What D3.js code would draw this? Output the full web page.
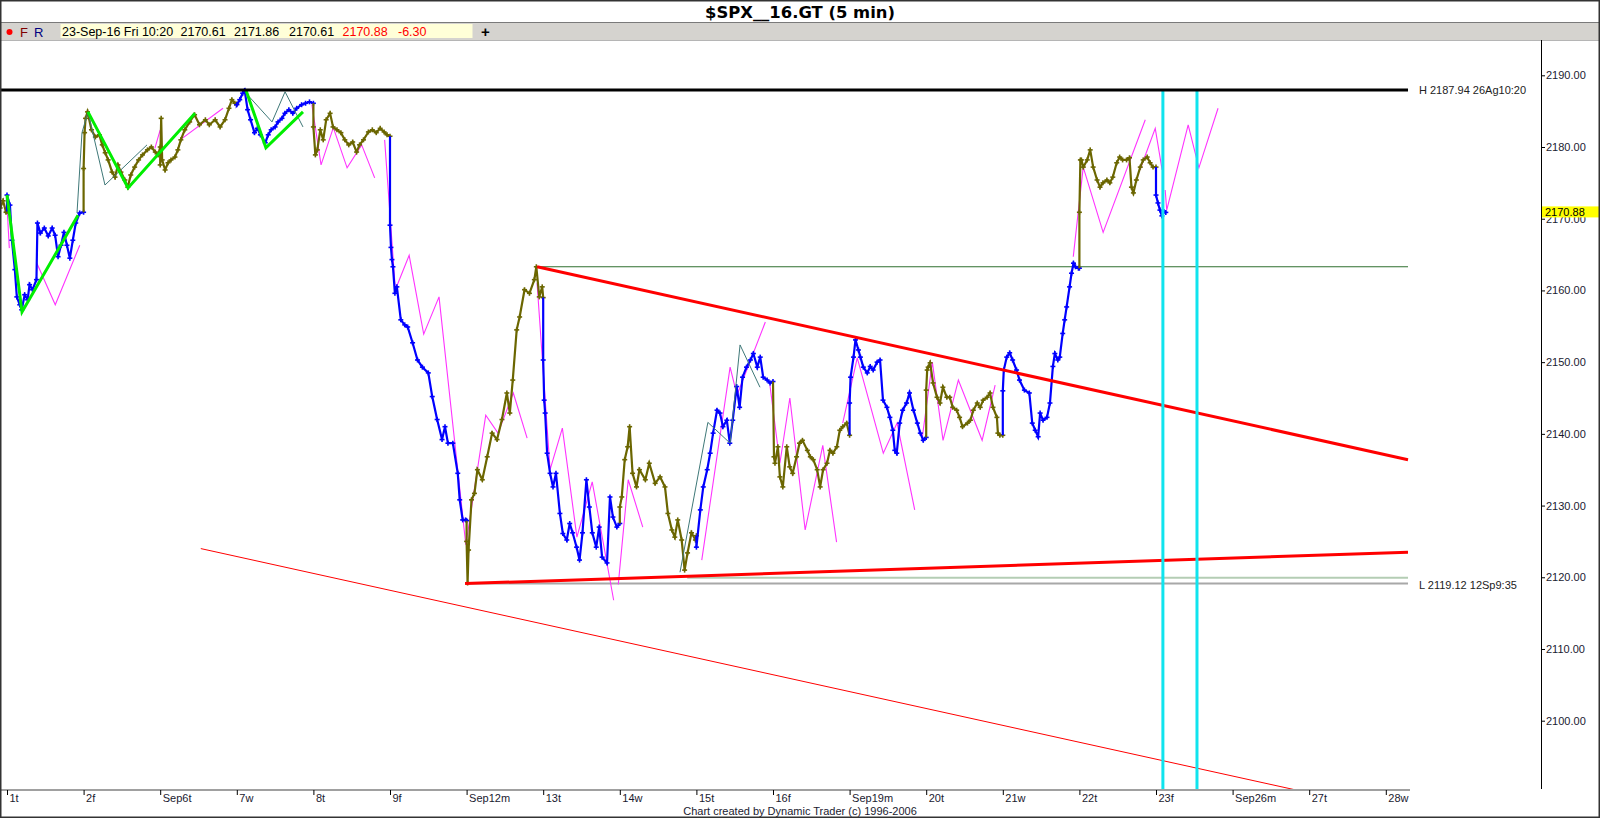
<!DOCTYPE html>
<html><head><meta charset="utf-8">
<script src="https://cdn.jsdelivr.net/npm/d3@7"></script>
<style>
html,body{margin:0;padding:0;background:#fff;}
svg{display:block;font-family:"Liberation Sans",Arial,sans-serif;}
</style></head><body>
<svg id="c" width="1600" height="818"></svg>
<script>
// ---------------- DATA ----------------
const chartTitle = "$SPX__16.GT (5 min)";
const dayLabels = ["1t","2f","Sep6t","7w","8t","9f","Sep12m","13t","14w","15t","16f","Sep19m","20t","21w","22t","23f","Sep26m","27t","28w"];
const yTicks = [2100,2110,2120,2130,2140,2150,2160,2170,2180,2190];
// trading sessions: session index (-1 = Aug 31) and calendar date
const sessionIndex = [-1,0,1,2,3,4,5,6,7,8,9,10,11,12,13,14,15];
const sessionDates = ["2016-08-31","2016-09-01","2016-09-02","2016-09-06","2016-09-07","2016-09-08","2016-09-09","2016-09-12","2016-09-13","2016-09-14","2016-09-15","2016-09-16","2016-09-19","2016-09-20","2016-09-21","2016-09-22","2016-09-23"];
// [minutes after open, price]
const aug31 = [[355,2171.5],[370,2172.5],[385,2170.9],[390,2171.0]];
const sep01 = [[0,2173.3],[15,2171.9],[25,2167.0],[40,2162.9],[50,2159.1],[65,2158.0],[75,2157.3],[90,2159.4],[105,2158.7],[115,2160.8],[130,2160.1],[150,2161.5],[155,2169.4],[170,2168.0],[190,2168.7],[210,2167.6],[230,2168.7],[245,2167.7],[260,2164.7],[275,2166.3],[290,2168.1],[305,2166.3],[320,2164.5],[335,2167.0],[350,2169.4],[370,2170.8],[390,2170.9]];
const sep02 = [[0,2177.0],[5,2182.0],[10,2184.0],[20,2184.9],[40,2182.4],[60,2181.4],[80,2181.7],[95,2180.3],[110,2179.2],[125,2178.2],[145,2176.5],[160,2175.8],[175,2177.5],[190,2176.5],[210,2175.4],[225,2174.4],[240,2176.1],[260,2177.2],[280,2178.2],[300,2178.9],[325,2179.6],[345,2180.0],[365,2179.3],[380,2178.9],[390,2180.0]];
const sep06 = [[0,2177.5],[5,2184.0],[10,2178.2],[25,2176.8],[40,2177.8],[55,2178.2],[75,2178.6],[90,2179.6],[105,2181.0],[125,2182.4],[150,2183.5],[175,2184.5],[200,2183.1],[230,2183.8],[250,2183.1],[280,2183.8],[305,2182.8],[330,2183.8],[350,2185.4],[365,2186.6],[380,2186.1],[390,2186.0]];
const sep07 = [[0,2185.9],[15,2186.6],[30,2187.5],[40,2187.9],[55,2185.2],[70,2183.8],[90,2182.0],[105,2182.6],[120,2181.7],[145,2180.6],[160,2181.7],[175,2182.4],[195,2182.8],[210,2183.5],[230,2184.0],[245,2184.7],[265,2185.2],[285,2184.7],[305,2185.4],[330,2185.9],[350,2186.1],[370,2186.3],[390,2186.1]];
const sep08 = [[0,2182.8],[10,2178.9],[20,2179.6],[35,2182.4],[50,2181.0],[65,2183.8],[85,2184.7],[100,2182.8],[120,2182.4],[140,2182.0],[160,2181.0],[180,2180.3],[200,2180.7],[220,2179.3],[235,2180.3],[255,2181.0],[280,2182.1],[300,2182.4],[320,2182.0],[340,2182.6],[360,2182.1],[375,2181.7],[390,2181.5]];
const sep09 = [[0,2169.1],[5,2166.0],[10,2164.3],[15,2163.3],[25,2159.6],[35,2160.5],[55,2155.9],[75,2155.2],[90,2154.9],[115,2152.7],[140,2150.3],[165,2149.3],[195,2148.5],[215,2145.2],[240,2142.0],[265,2139.2],[280,2141.0],[295,2138.7],[320,2138.7],[345,2134.5],[355,2130.8],[370,2128.0],[385,2128.0],[390,2127.9]];
const sep12 = [[0,2125.0],[5,2119.2],[10,2123.8],[25,2130.8],[40,2131.7],[55,2135.0],[80,2133.6],[105,2136.8],[130,2140.1],[155,2139.2],[180,2142.0],[205,2145.7],[220,2142.9],[235,2147.5],[255,2154.5],[270,2156.3],[295,2160.1],[320,2159.6],[345,2161.5],[355,2163.3],[370,2159.1],[385,2160.5],[390,2159.0]];
const sep13 = [[0,2150.3],[5,2144.7],[10,2142.9],[20,2137.3],[35,2134.5],[50,2132.6],[65,2134.5],[85,2128.9],[100,2126.1],[120,2125.2],[135,2127.5],[150,2126.2],[170,2124.2],[185,2122.4],[200,2126.2],[220,2133.6],[235,2129.8],[250,2126.2],[270,2124.2],[285,2127.0],[300,2122.8],[325,2122.0],[340,2131.2],[355,2128.4],[375,2127.0],[390,2127.5]];
const sep14 = [[0,2129.8],[10,2131.2],[25,2136.4],[40,2138.2],[50,2141.0],[65,2134.5],[85,2132.6],[100,2135.0],[130,2133.6],[150,2135.9],[180,2133.1],[205,2134.0],[230,2132.6],[245,2128.9],[265,2126.6],[280,2125.6],[295,2128.0],[315,2125.2],[330,2121.0],[345,2123.4],[365,2126.2],[385,2125.2],[390,2125.8]];
const sep15 = [[0,2124.2],[20,2129.4],[35,2132.6],[55,2135.0],[70,2137.3],[85,2140.1],[105,2143.3],[120,2142.9],[135,2141.0],[155,2141.9],[170,2138.7],[185,2141.9],[205,2146.6],[220,2143.7],[235,2147.9],[255,2149.3],[275,2150.3],[290,2151.2],[310,2149.3],[325,2150.7],[340,2147.9],[360,2147.5],[375,2147.1],[390,2147.3]];
const sep16 = [[5,2136.8],[10,2135.9],[25,2138.2],[35,2134.0],[50,2132.6],[70,2138.2],[85,2135.4],[100,2134.5],[120,2136.8],[135,2138.7],[150,2139.1],[175,2137.7],[190,2136.8],[205,2136.4],[225,2135.0],[240,2132.6],[255,2135.0],[275,2135.9],[290,2137.7],[305,2137.3],[325,2138.2],[340,2140.5],[355,2141.0],[375,2141.5],[390,2139.8]];
const sep19 = [[0,2144.3],[5,2147.9],[20,2150.7],[30,2153.1],[45,2151.7],[55,2150.7],[70,2149.3],[90,2148.5],[105,2149.4],[120,2148.9],[140,2150.0],[155,2150.3],[170,2144.7],[190,2143.7],[205,2142.3],[220,2140.5],[230,2137.7],[240,2137.3],[255,2141.5],[270,2143.3],[290,2144.3],[305,2145.7],[325,2143.3],[345,2141.5],[360,2140.1],[375,2139.1],[390,2139.5]];
const sep20 = [[0,2146.1],[5,2148.9],[10,2149.3],[20,2149.9],[35,2147.1],[55,2145.1],[70,2144.3],[85,2146.5],[105,2145.1],[120,2145.1],[135,2143.7],[155,2143.3],[170,2142.3],[185,2141.0],[210,2141.5],[225,2141.9],[240,2143.3],[260,2144.3],[275,2143.7],[290,2144.7],[310,2145.1],[325,2145.7],[340,2143.7],[360,2142.3],[365,2140.1],[375,2139.8],[390,2139.8]];
const sep21 = [[0,2146.0],[5,2148.9],[20,2150.7],[35,2151.3],[50,2150.3],[70,2148.9],[85,2147.5],[110,2146.1],[135,2145.7],[150,2141.5],[165,2140.5],[180,2139.6],[190,2142.9],[205,2141.9],[225,2142.3],[240,2144.3],[255,2149.4],[265,2151.2],[280,2150.3],[290,2150.7],[305,2154.0],[315,2155.9],[325,2157.7],[340,2160.5],[350,2162.4],[360,2163.8],[370,2163.3],[385,2163.1],[390,2163.1]];
const sep22 = [[0,2170.9],[5,2178.2],[10,2178.2],[20,2177.2],[40,2178.2],[55,2179.6],[70,2177.2],[90,2175.4],[105,2174.4],[120,2175.0],[140,2175.4],[155,2175.0],[170,2175.8],[190,2177.8],[205,2178.6],[220,2178.2],[240,2178.2],[255,2178.5],[265,2174.4],[275,2173.6],[290,2175.4],[310,2177.2],[325,2178.2],[345,2178.6],[360,2177.8],[375,2177.2],[390,2177.2]];
const sep23 = [[0,2173.3],[10,2172.2],[20,2171.2],[30,2170.4],[40,2171.0],[50,2170.88]];
const sessionSeries = [aug31,sep01,sep02,sep06,sep07,sep08,sep09,sep12,sep13,sep14,sep15,sep16,sep19,sep20,sep21,sep22,sep23];

// projection zigzags (magenta) : [session time, price]
const projectionSwings = [
  [[0.0,2171.9],[0.03,2165.9]],
  [[0.39,2163.8],[0.63,2158.0],[0.95,2166.3]],
  [[1.93,2179.8],[2.0,2182.4]],
  [[2.26,2181.0],[2.82,2185.4]],
  [[3.98,2185.9],[4.10,2177.5],[4.26,2182.7],[4.44,2177.1],[4.63,2180.3],[4.80,2175.7]],
  [[4.93,2181.0],[5.07,2160.1],[5.25,2164.9],[5.44,2153.9],[5.64,2159.1],[5.99,2124.5],[6.25,2142.6],[6.41,2140.1],[6.61,2145.7],[6.79,2139.4]],
  [[6.92,2161.0],[7.09,2135.0],[7.25,2140.8],[7.44,2125.6],[7.64,2133.3],[7.92,2116.8]],
  [[7.98,2119.0],[8.11,2133.6],[8.30,2127.0]],
  [[9.07,2122.4],[9.44,2149.3],[9.53,2145.4],[9.90,2155.6]],
  [[9.96,2146.8],[10.09,2135.9],[10.22,2145.0],[10.42,2126.6],[10.65,2138.4],[10.83,2124.9]],
  [[10.91,2141.5],[11.10,2150.6],[11.44,2137.3],[11.62,2141.5],[11.85,2129.4]],
  [[11.95,2139.6],[12.08,2150.0],[12.22,2139.1],[12.42,2147.5],[12.73,2139.1],[12.90,2146.8]],
  [[13.92,2164.7],[14.05,2177.2],[14.31,2168.1],[14.86,2183.8]],
  [[14.79,2176.8],[14.99,2182.6],[15.08,2176.8]],
  [[15.12,2174.0],[15.14,2171.2],[15.42,2183.1],[15.56,2177.1],[15.81,2185.4]]
];
// minor swing lines (teal)
const minorSwings = [
  [[0.914,2170.8],[0.979,2182.0],[1.057,2184.9],[1.279,2174.7],[1.828,2180.3]],
  [[3.146,2187.2],[3.46,2183.5],[3.63,2187.7],[3.864,2182.8]],
  [[8.786,2120.7],[9.15,2141.6],[9.44,2138.7],[9.57,2152.4],[9.83,2146.5]]
];
// major swing lines (green)
const majorSwings = [
  [[0.0,2173.3],[0.196,2157.0],[0.927,2170.5]],
  [[1.057,2184.9],[1.58,2174.3],[2.454,2184.7]],
  [[3.12,2187.9],[3.38,2179.9],[3.864,2184.9]]
];
// trend lines
const trendUpper = [[6.92,2163.3],[18.29,2136.4]];
const trendLower = [[5.98,2119.12],[18.29,2123.5]];
const trendChannel = [[2.53,2124.0],[16.8,2090.4]];
// horizontal levels [start time, end time, price]
const highLevel = [-0.1, 18.29, 2187.94];
const lowLevel = [5.98, 18.29, 2119.12];
const level2120 = [8.88, 18.29, 2119.95];
const level2163 = [6.92, 18.29, 2163.3];
const timeMarkers = [15.09, 15.535];
const lastPrice = 2170.88;
const headerValues = ["23-Sep-16 Fri 10:20","2170.61","2171.86","2170.61"];
const headerRed = ["2170.88","-6.30"];
const highLabel = "H 2187.94 26Ag10:20";
const lowLabel = "L 2119.12 12Sp9:35";

// ---------------- DRAW ----------------
const svg = d3.select("#c");
const W = 1600, H = 818;
const plotTop = 40, plotBottom = 789, axisX = 1541, plotEndX = 1410;
const x = d3.scaleLinear().domain([0, 18]).range([7, 1385.8]);
const y = d3.scaleLinear().domain([2100, 2190]).range([720.7, 75.3]);

svg.append("rect").attr("width", W).attr("height", H).attr("fill", "#fff");

// header
svg.append("text").attr("x", 800).attr("y", 18).attr("text-anchor", "middle")
  .attr("font-family", "DejaVu Sans, Liberation Sans, sans-serif")
  .attr("font-weight", "bold").attr("font-size", 16)
  .attr("textLength", 190).attr("lengthAdjust", "spacingAndGlyphs")
  .text(chartTitle);
svg.append("rect").attr("x", 0).attr("y", 22).attr("width", W).attr("height", 18).attr("fill", "#d5d3cf");
svg.append("line").attr("x1", 0).attr("x2", W).attr("y1", 22.5).attr("y2", 22.5).attr("stroke", "#7a7a7a");
svg.append("line").attr("x1", 0).attr("x2", W).attr("y1", 40.5).attr("y2", 40.5).attr("stroke", "#b5b5b5");
svg.append("circle").attr("cx", 9.5).attr("cy", 32).attr("r", 3).attr("fill", "#ff0000");
svg.append("text").attr("x", 20).attr("y", 37).attr("font-size", 13).attr("fill", "#800000").text("F");
svg.append("text").attr("x", 34).attr("y", 37).attr("font-size", 13).attr("fill", "#000080").text("R");
svg.append("rect").attr("x", 60.5).attr("y", 24).attr("width", 412).attr("height", 14).attr("fill", "#ffffd8");
const hx = [62, 180.5, 234, 289];
headerValues.forEach((t, i) => svg.append("text").attr("x", hx[i]).attr("y", 36).attr("font-size", 12.5).attr("fill", "#000").text(t));
const hrx = [342.5, 398];
headerRed.forEach((t, i) => svg.append("text").attr("x", hrx[i]).attr("y", 36).attr("font-size", 12.5).attr("fill", "#ff0000").text(t));
svg.append("text").attr("x", 481).attr("y", 37).attr("font-size", 15).attr("font-weight", "bold").text("+");

// plot clip
svg.append("clipPath").attr("id", "clip").append("rect")
  .attr("x", 0).attr("y", plotTop + 1).attr("width", axisX).attr("height", plotBottom - plotTop - 1);
const g = svg.append("g").attr("clip-path", "url(#clip)");

const line = d3.line().x(d => x(d[0])).y(d => y(d[1]));

// horizontal levels
function level(lv, color, w) {
  g.append("line").attr("x1", x(lv[0])).attr("x2", x(lv[1])).attr("y1", y(lv[2])).attr("y2", y(lv[2]))
    .attr("stroke", color).attr("stroke-width", w);
}
level(level2163, "#2f6f2f", 1.2);
level(lowLevel, "#a8a8a8", 2);
level(level2120, "#b4cdb4", 2);

// magenta projections
projectionSwings.forEach(s => g.append("path").attr("d", line(s)).attr("fill", "none")
  .attr("stroke", "#ff33ff").attr("stroke-width", 1.1));

// price bars per session (colour alternates with calendar day parity)
const dayOfYear = ds => {
  const d = new Date(ds + "T00:00:00Z");
  return Math.floor((d - new Date(Date.UTC(d.getUTCFullYear(), 0, 1))) / 864e5) + 1;
};
let prev = null;
sessionSeries.forEach((ser, k) => {
  const si = sessionIndex[k];
  const pts = ser.map(p => [si + p[0] / 390, p[1]]);
  const all = prev ? [prev].concat(pts) : pts;
  const color = dayOfYear(sessionDates[k]) % 2 === 1 ? "#0000ff" : "#6b6600";
  g.append("path").attr("d", line(all)).attr("fill", "none").attr("stroke", color)
    .attr("stroke-width", 2.2).attr("stroke-linejoin", "miter");
  g.selectAll(null).data(pts).enter().append("line")
    .attr("x1", d => x(d[0]) - 2.5).attr("x2", d => x(d[0]) + 2.5)
    .attr("y1", d => y(d[1])).attr("y2", d => y(d[1]))
    .attr("stroke", color).attr("stroke-width", 1.6);
  g.selectAll(null).data(pts).enter().append("line")
    .attr("x1", d => x(d[0])).attr("x2", d => x(d[0]))
    .attr("y1", d => y(d[1]) - 2.5).attr("y2", d => y(d[1]) + 2.5)
    .attr("stroke", color).attr("stroke-width", 1.6);
  prev = pts[pts.length - 1];
});

// teal minor swings
minorSwings.forEach(s => g.append("path").attr("d", line(s)).attr("fill", "none")
  .attr("stroke", "#3f7878").attr("stroke-width", 1));
// green major swings
majorSwings.forEach(s => g.append("path").attr("d", line(s)).attr("fill", "none")
  .attr("stroke", "#00ee00").attr("stroke-width", 3));

// trend lines
g.append("path").attr("d", line(trendUpper)).attr("stroke", "#ff0000").attr("stroke-width", 3).attr("fill", "none");
g.append("path").attr("d", line(trendLower)).attr("stroke", "#ff0000").attr("stroke-width", 3).attr("fill", "none");
g.append("path").attr("d", line(trendChannel)).attr("stroke", "#ff0000").attr("stroke-width", 1).attr("fill", "none");

// time markers
timeMarkers.forEach(t => g.append("line").attr("x1", x(t)).attr("x2", x(t))
  .attr("y1", y(highLevel[2])).attr("y2", plotBottom).attr("stroke", "#10e4ee").attr("stroke-width", 3));

// high level line
level(highLevel, "#000", 3);

// level labels
svg.append("text").attr("x", 1419).attr("y", y(highLevel[2]) + 4).attr("font-size", 11).attr("fill", "#222").text(highLabel);
svg.append("text").attr("x", 1419).attr("y", y(lowLevel[2]) + 5).attr("font-size", 11).attr("fill", "#222").text(lowLabel);

// y axis
const yAxis = svg.append("g").attr("transform", `translate(${axisX},0)`)
  .call(d3.axisRight(y).tickValues(yTicks).tickFormat(d3.format(".2f")).tickSize(4).tickPadding(1));
yAxis.select(".domain").remove();
yAxis.selectAll("text").attr("font-size", 11).attr("font-family", "Liberation Sans, Arial, sans-serif").attr("fill", "#1a1a30");
yAxis.selectAll("line").attr("stroke", "#000");
svg.append("line").attr("x1", axisX + 0.5).attr("x2", axisX + 0.5).attr("y1", plotTop).attr("y2", plotBottom).attr("stroke", "#000");

// last price tag
svg.append("rect").attr("x", axisX + 1).attr("y", y(lastPrice) - 6).attr("width", W - axisX - 1).attr("height", 11).attr("fill", "#ffff00");
svg.append("text").attr("x", axisX + 4).attr("y", y(lastPrice) + 4).attr("font-size", 11).attr("fill", "#000").text(d3.format(".2f")(lastPrice));

// x axis
svg.append("line").attr("x1", 0).attr("x2", plotEndX).attr("y1", plotBottom + 1).attr("y2", plotBottom + 1).attr("stroke", "#a0a0a0").attr("stroke-width", 2);
const xAxis = svg.append("g").attr("transform", `translate(0,${plotBottom + 1})`)
  .call(d3.axisBottom(x).tickValues(d3.range(dayLabels.length)).tickFormat(i => dayLabels[i]).tickSize(5));
xAxis.select(".domain").remove();
xAxis.selectAll("line").attr("stroke", "#000");
xAxis.selectAll("text").attr("text-anchor", "start").attr("x", 2).attr("y", 4).attr("dy", "0.71em")
  .attr("font-size", 11).attr("font-family", "Liberation Sans, Arial, sans-serif").attr("fill", "#1a1a30");

// footer
svg.append("text").attr("x", 800).attr("y", 815).attr("text-anchor", "middle").attr("font-size", 11).attr("fill", "#1a1a30")
  .text("Chart created by Dynamic Trader  (c) 1996-2006");

// frame
svg.append("rect").attr("x", 0.75).attr("y", 0.75).attr("width", W - 1.5).attr("height", H - 1.5)
  .attr("fill", "none").attr("stroke", "#333").attr("stroke-width", 1.5);
</script>
</body></html>
